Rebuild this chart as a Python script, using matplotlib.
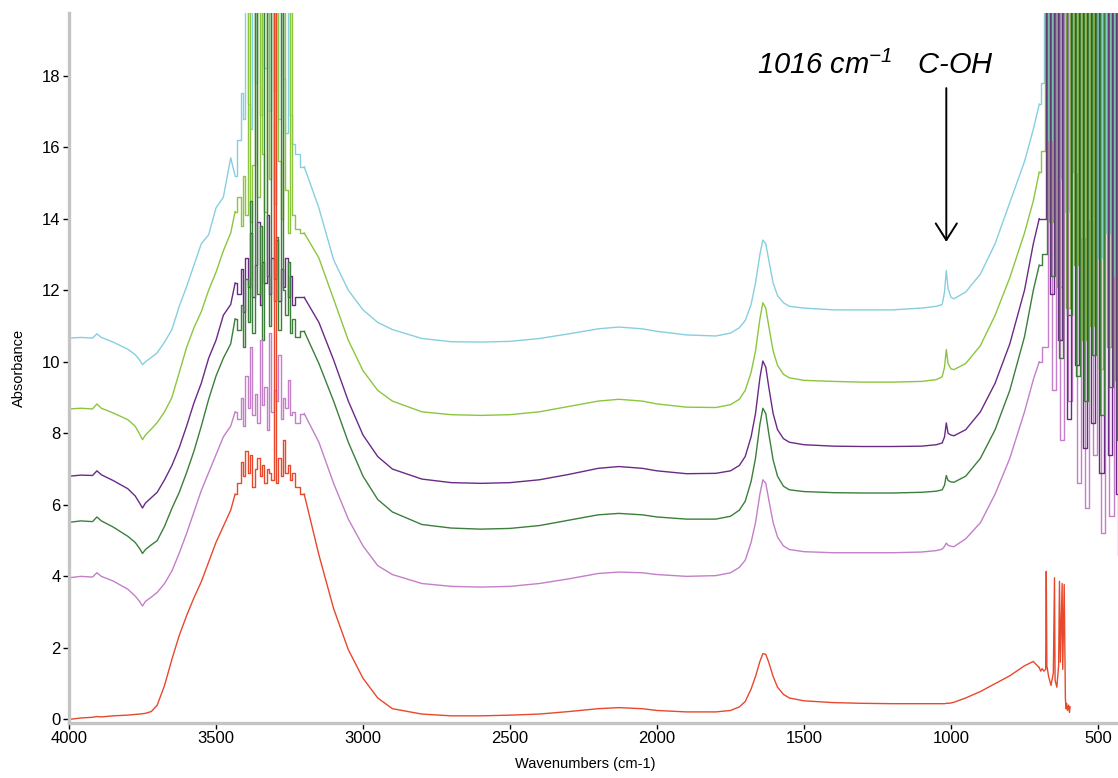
import matplotlib
matplotlib.use("Agg")
import matplotlib.pyplot as plt
from matplotlib.ticker import MultipleLocator

plt.rcParams['font.family'] = ['Liberation Sans', 'DejaVu Sans']
plt.rcParams['mathtext.fontset'] = 'custom'
plt.rcParams['mathtext.rm'] = 'Liberation Sans:italic'
plt.rcParams['mathtext.it'] = 'Liberation Sans:italic'
plt.rcParams['mathtext.default'] = 'rm'

# ---- wavenumber grids (cm-1) ----
WN_LEFT = [4000, 3960, 3920, 3905, 3890, 3850, 3800, 3775, 3760, 3750, 3740, 3720, 3700, 3675,
           3650, 3625, 3600, 3575, 3550, 3525, 3500, 3475, 3450, 3435]
WN_CENTER = [3420, 3412, 3404, 3396, 3388, 3380, 3372, 3364, 3356, 3348, 3340, 3332, 3324,
             3316, 3308, 3300, 3292, 3284, 3276, 3268, 3260, 3252, 3244, 3236, 3228]
WN_MID = [3200, 3150, 3100, 3050, 3000, 2950, 2900, 2800, 2700, 2600, 2500, 2400, 2300, 2200,
          2130, 2050, 2000, 1900, 1800, 1750, 1720, 1700, 1680, 1665, 1650, 1640, 1630, 1620,
          1605, 1590, 1570, 1550, 1500, 1400, 1300, 1200, 1100, 1050, 1030, 1022, 1016, 1010,
          1000, 990, 950, 900, 850, 800, 750, 720, 700]
# sampling of the low-wavenumber cut-off region (14 cm-1 spacing, staggered per spectrum)
WN_TAIL_LB = list(range(690, 437, -14))
WN_TAIL_YG = list(range(687, 434, -14))
WN_TAIL_PU = list(range(684, 431, -14))
WN_TAIL_DG = list(range(681, 428, -14))
WN_TAIL_OR = list(range(678, 425, -14))
WN_TAIL_RD = [695, 690, 684, 678, 676, 674, 668, 660, 652, 648, 646, 640, 634, 631, 628, 622,
              620, 615, 611, 609, 607, 604, 600, 597, 595]

# ---- absorbance, light blue spectrum ----
LB_LEFT = [10.66, 10.68, 10.66, 10.78, 10.68, 10.55, 10.35, 10.2, 10.05, 9.92, 10.0, 10.12,
           10.25, 10.55, 10.9, 11.55, 12.1, 12.7, 13.3, 13.55, 14.3, 14.6, 15.7, 15.2]
LB_CENTER = [16.2, 17.5, 16.8, 21, 17.2, 16.5, 22, 17.8, 21, 16.9, 23, 18.2, 22, 17.0, 21, 17.6,
             24, 16.8, 22, 17.9, 16.4, 21, 16.9, 16.1, 15.8]
LB_MID = [15.45, 14.3, 12.85, 12.0, 11.45, 11.1, 10.9, 10.65, 10.56, 10.55, 10.57, 10.65, 10.78,
          10.92, 10.97, 10.92, 10.85, 10.75, 10.72, 10.8, 10.95, 11.15, 11.6, 12.2, 13.0, 13.4,
          13.3, 12.85, 12.2, 11.85, 11.65, 11.55, 11.5, 11.45, 11.45, 11.45, 11.5, 11.55, 11.6,
          11.95, 12.55, 12.05, 11.8, 11.76, 11.95, 12.45, 13.3, 14.45, 15.6, 16.5, 17.2]
LB_TAIL = [17.8, 24, 16.2, 25, 15.1, 23, 14.2, 26, 15.3, 22, 13.5, 25, 14.0, 24, 12.9, 23, 13.6,
           25, 12.4]

# ---- yellow-green spectrum ----
YG_LEFT = [8.68, 8.70, 8.68, 8.82, 8.70, 8.57, 8.38, 8.2, 7.98, 7.82, 7.95, 8.12, 8.3, 8.6, 9.0,
           9.7, 10.4, 10.95, 11.4, 12.0, 12.5, 13.1, 13.6, 14.2]
YG_CENTER = [14.6, 13.8, 15.2, 14.1, 21, 13.9, 15.5, 22, 14.6, 21, 15.8, 14.2, 23, 15.1, 22,
             14.4, 21, 15.6, 14.0, 22, 14.8, 13.6, 21, 14.1, 13.7]
YG_MID = [13.6, 12.9, 11.75, 10.6, 9.75, 9.2, 8.9, 8.6, 8.52, 8.5, 8.52, 8.6, 8.75, 8.9, 8.95,
          8.9, 8.82, 8.73, 8.72, 8.8, 8.95, 9.2, 9.7, 10.3, 11.2, 11.65, 11.5, 11.0, 10.3, 9.9,
          9.65, 9.55, 9.48, 9.45, 9.43, 9.43, 9.45, 9.5, 9.58, 9.85, 10.34, 9.95, 9.8, 9.78,
          9.95, 10.45, 11.3, 12.35, 13.6, 14.5, 15.3]
YG_TAIL = [15.9, 23, 13.9, 25, 12.1, 22, 11.5, 26, 12.7, 24, 10.6, 23, 11.0, 25, 9.8, 22, 10.4,
           24, 9.5]

# ---- dark purple spectrum ----
PU_LEFT = [6.80, 6.83, 6.82, 6.95, 6.84, 6.68, 6.45, 6.25, 6.05, 5.91, 6.05, 6.2, 6.35, 6.7,
           7.1, 7.6, 8.2, 8.85, 9.4, 10.1, 10.6, 11.3, 11.6, 12.2]
PU_CENTER = [11.9, 12.6, 11.4, 12.9, 12.1, 13.6, 11.8, 12.7, 13.9, 11.6, 12.8, 12.2, 14.1, 11.9,
             12.9, 12.3, 13.4, 11.7, 12.6, 12.1, 12.9, 11.8, 12.4, 11.6, 11.8]
PU_MID = [11.8, 11.1, 10.05, 8.9, 7.95, 7.35, 7.0, 6.72, 6.62, 6.6, 6.62, 6.7, 6.85, 7.02, 7.07,
          7.02, 6.95, 6.87, 6.88, 6.95, 7.1, 7.35, 7.9, 8.55, 9.55, 10.02, 9.85, 9.3, 8.55, 8.1,
          7.85, 7.75, 7.68, 7.64, 7.63, 7.63, 7.64, 7.68, 7.73, 7.9, 8.29, 8.0, 7.95, 7.93, 8.1,
          8.6, 9.4, 10.5, 12.0, 13.3, 14.0]
PU_TAIL = [14.0, 22, 11.9, 24, 10.6, 23, 8.4, 25, 9.9, 22, 7.6, 24, 8.3, 23, 6.9, 25, 7.4, 22,
           6.3]

# ---- dark green spectrum ----
DG_LEFT = [5.51, 5.55, 5.53, 5.66, 5.55, 5.38, 5.12, 4.95, 4.78, 4.64, 4.75, 4.88, 5.0, 5.4,
           5.9, 6.35, 6.9, 7.5, 8.2, 8.95, 9.6, 10.1, 10.5, 11.2]
DG_CENTER = [10.9, 11.6, 10.4, 12.3, 11.1, 14.5, 10.8, 21, 11.9, 13.8, 10.6, 21, 12.4, 11.0, 22,
             11.7, 13.5, 10.9, 21, 12.0, 11.3, 12.8, 10.8, 11.2, 10.7]
DG_MID = [10.85, 9.95, 8.9, 7.75, 6.8, 6.15, 5.8, 5.45, 5.35, 5.32, 5.34, 5.42, 5.57, 5.72, 5.76,
          5.72, 5.66, 5.6, 5.6, 5.68, 5.85, 6.1, 6.65, 7.3, 8.25, 8.7, 8.55, 8.0, 7.25, 6.8,
          6.52, 6.42, 6.37, 6.34, 6.33, 6.33, 6.35, 6.38, 6.42, 6.55, 6.82, 6.68, 6.64, 6.63,
          6.8, 7.3, 8.1, 9.2, 10.7, 12.0, 12.7]
DG_TAIL = [13.0, 23, 12.4, 25, 10.1, 22, 11.3, 24, 9.6, 26, 8.9, 23, 10.2, 22, 8.5, 25, 9.3, 24,
           7.8]

# ---- orchid spectrum ----
OR_LEFT = [3.96, 4.00, 3.98, 4.10, 4.00, 3.87, 3.64, 3.45, 3.3, 3.17, 3.3, 3.42, 3.55, 3.8,
           4.15, 4.65, 5.2, 5.8, 6.4, 6.9, 7.4, 7.9, 8.2, 8.6]
OR_CENTER = [8.4, 9.0, 8.2, 9.6, 8.7, 10.4, 8.5, 9.1, 8.3, 10.6, 8.8, 9.3, 8.1, 10.8, 8.6, 9.2,
             8.9, 10.2, 8.4, 9.0, 8.7, 9.5, 8.5, 8.6, 8.3]
OR_MID = [8.55, 7.75, 6.6, 5.6, 4.85, 4.3, 4.05, 3.8, 3.72, 3.7, 3.72, 3.8, 3.93, 4.08, 4.12,
          4.1, 4.05, 4.0, 4.02, 4.1, 4.25, 4.45, 4.95, 5.5, 6.3, 6.7, 6.6, 6.15, 5.5, 5.1, 4.85,
          4.75, 4.69, 4.66, 4.66, 4.66, 4.68, 4.72, 4.76, 4.84, 4.93, 4.87, 4.84, 4.83, 5.05,
          5.5, 6.3, 7.3, 8.6, 9.5, 10.0]
OR_TAIL = [10.4, 21, 9.2, 23, 7.8, 22, 8.9, 24, 6.6, 22, 5.9, 23, 7.4, 25, 5.2, 22, 5.7, 24,
           4.6]

# ---- red spectrum ----
RD_LEFT = [0.00, 0.04, 0.06, 0.08, 0.07, 0.10, 0.12, 0.14, 0.15, 0.16, 0.17, 0.22, 0.40, 0.95,
           1.68, 2.35, 2.9, 3.4, 3.85, 4.4, 4.95, 5.4, 5.85, 6.3]
RD_CENTER = [6.6, 7.2, 6.8, 7.5, 6.9, 7.4, 6.5, 7.0, 7.3, 6.8, 7.1, 6.6, 7.0, 6.9, 6.7, 21, 6.6,
             7.3, 6.8, 7.8, 6.9, 7.1, 6.7, 6.9, 6.5]
RD_MID = [6.3, 4.6, 3.1, 1.95, 1.15, 0.6, 0.3, 0.15, 0.1, 0.1, 0.12, 0.15, 0.22, 0.3, 0.33, 0.3,
          0.25, 0.21, 0.21, 0.25, 0.35, 0.5, 0.85, 1.2, 1.62, 1.84, 1.82, 1.6, 1.2, 0.9, 0.7,
          0.6, 0.52, 0.47, 0.45, 0.44, 0.44, 0.44, 0.44, 0.44, 0.45, 0.45, 0.46, 0.48, 0.6,
          0.78, 1.0, 1.22, 1.5, 1.62, 1.45]
RD_TAIL = [1.35, 1.42, 1.35, 1.4, 4.14, 1.5, 1.2, 0.95, 1.3, 3.96, 1.1, 0.9, 1.5, 3.86, 1.6,
           3.8, 1.4, 3.77, 0.6, 0.3, 0.45, 0.25, 0.4, 0.2, 0.35]

PEAK_WN = 1016
ARROW_TOP, ARROW_TIP = 17.65, 13.35

COLORS = {"lb": "#86cfe0", "yg": "#8cc63f", "pu": "#6a2a86", "dg": "#3b7f3b",
          "or": "#c47fc9", "rd": "#e8482c"}

spectra = {
    "lb": (LB_LEFT, LB_CENTER, LB_MID, WN_TAIL_LB, LB_TAIL),
    "yg": (YG_LEFT, YG_CENTER, YG_MID, WN_TAIL_YG, YG_TAIL),
    "pu": (PU_LEFT, PU_CENTER, PU_MID, WN_TAIL_PU, PU_TAIL),
    "dg": (DG_LEFT, DG_CENTER, DG_MID, WN_TAIL_DG, DG_TAIL),
    "or": (OR_LEFT, OR_CENTER, OR_MID, WN_TAIL_OR, OR_TAIL),
    "rd": (RD_LEFT, RD_CENTER, RD_MID, WN_TAIL_RD, RD_TAIL),
}

W, H = 1118, 778
fig = plt.figure(figsize=(W / 100, H / 100), dpi=100)
ax = fig.add_axes([69 / W, 1 - 723 / H, 1049 / W, 710 / H])

LW = 1.0
for key in ("lb", "yg", "pu", "dg", "or", "rd"):
    left, center, mid, tail_wn, tail = spectra[key]
    c = COLORS[key]
    ax.plot(WN_LEFT, left, color=c, lw=LW)
    ax.plot(WN_MID, mid, color=c, lw=LW)
    # noisy O-H stretch band (saturated region), drawn as steps
    ax.plot([WN_LEFT[-1]] + WN_CENTER + [WN_MID[0]], [left[-1]] + center + [mid[0]],
            color=c, lw=LW, drawstyle="steps-mid")

# low-wavenumber cut-off region
for key in ("or", "lb", "yg", "pu", "dg", "rd"):
    left, center, mid, tail_wn, tail = spectra[key]
    ax.plot([WN_MID[-1]] + tail_wn, [mid[-1]] + tail, color=COLORS[key], lw=LW,
            drawstyle="default" if key == "rd" else "steps-mid")

ax.set_xlim(4000, 432)
ax.set_ylim(-0.1, 19.75)

for side in ("top", "right"):
    ax.spines[side].set_visible(False)
for side in ("left", "bottom"):
    ax.spines[side].set_color("#c4c4c4")
    ax.spines[side].set_linewidth(2.4)

ax.xaxis.set_major_locator(MultipleLocator(500))
ax.xaxis.set_minor_locator(MultipleLocator(100))
ax.yaxis.set_major_locator(MultipleLocator(2))
ax.yaxis.set_minor_locator(MultipleLocator(0.5))
ax.tick_params(which="major", direction="out", length=4, width=1.0, color="black",
               labelsize=12, pad=2)
ax.tick_params(which="minor", direction="inout", length=2, width=1.6, color="#333333")

ax.set_xlabel("Wavenumbers (cm-1)", fontsize=10.5)
ax.set_ylabel("Absorbance", fontsize=10.5)
ax.xaxis.set_label_coords(0.492, -0.048)
ax.yaxis.set_label_coords(-0.041, 0.5)

ax.text(1660, 18.04, r"1016 cm$^{-1}$   C-OH", fontsize=21, fontstyle="italic",
        ha="left", va="baseline")
ax.annotate("", xy=(PEAK_WN, ARROW_TIP), xytext=(PEAK_WN, ARROW_TOP),
            arrowprops=dict(arrowstyle="->,head_length=0.6,head_width=0.38",
                            mutation_scale=20, lw=1.4, color="black",
                            shrinkA=0, shrinkB=0))

fig.savefig("out.png", dpi=100)
